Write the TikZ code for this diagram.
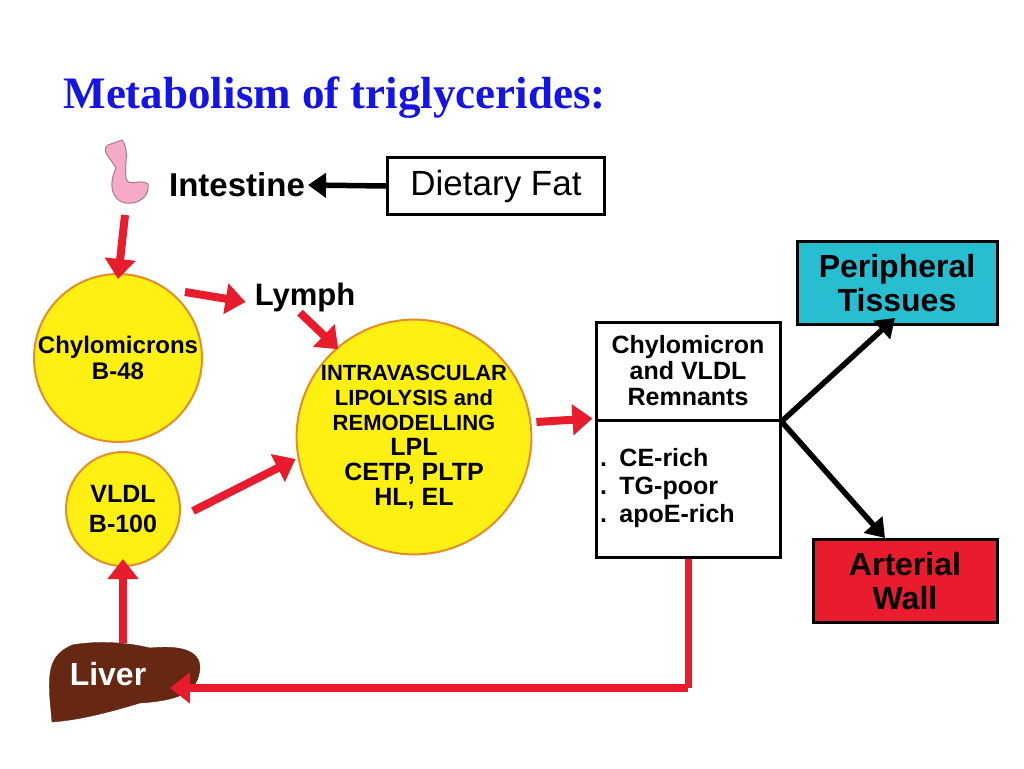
\documentclass[tikz,border=0pt]{standalone}
\usepackage{fontspec}
\setmainfont{Liberation Sans}
\newfontfamily\titlefont{Liberation Serif}
\usetikzlibrary{arrows.meta,positioning}
\definecolor{ared}{RGB}{232,28,44}
\definecolor{ayellow}{RGB}{255,240,20}
\definecolor{aorange}{RGB}{230,140,40}
\definecolor{acyan}{RGB}{40,190,210}
\definecolor{abrown}{RGB}{102,40,18}
\definecolor{apink}{RGB}{245,170,200}
\definecolor{atitle}{RGB}{20,20,230}
\tikzset{
  redarrow/.style={draw=ared,line width=8pt,-{Triangle[width=30pt,length=20pt]}},
  blackarrow/.style={draw=black,line width=5.5pt,-{Triangle[width=24pt,length=18pt]}},
  ball/.style={circle,draw=aorange,fill=ayellow,line width=2pt,inner sep=0pt,align=center,font=\bfseries\fontsize{24}{26}\selectfont},
  lbl/.style={font=\bfseries\fontsize{33}{36}\selectfont,inner sep=1pt},
  box/.style={draw=black,line width=3pt,align=center,inner sep=0pt}
}
\begin{document}
\begin{tikzpicture}[x=1pt,y=-1pt]
\useasboundingbox (0,0) rectangle (1024,768);
\node[anchor=west,text=atitle,font=\titlefont\bfseries\fontsize{45}{48}\selectfont] (title) at (60,98) {Metabolism of triglycerides:};
% intestine
\draw[apink!70!black,fill=apink,line width=1pt] (108,145) .. controls (100,150) and (112,160) .. (116,168)
  .. controls (108,185) and (112,200) .. (125,203) .. controls (140,205) and (150,195) .. (148,184)
  .. controls (140,178) and (128,188) .. (126,178) .. controls (124,165) and (130,150) .. (122,140) -- cycle;
\node[lbl] (intestine) at (237,185) {Intestine};
\node[box,minimum width=217pt,minimum height=57pt,font=\fontsize{35}{38}\selectfont] (fat) at (496,186) {Dietary Fat};
\coordinate (gut) at (125,215);
% circles
\node[ball,minimum size=168pt] (chylo) at (118,358) {Chylomicrons\\B-48};
\node[ball,minimum size=114pt,font=\bfseries\fontsize{25}{30}\selectfont] (vldl) at (123,509) {VLDL\\B-100};
\node[lbl,font=\bfseries\fontsize{31}{34}\selectfont] (lymph) at (305,297) {Lymph};
\node[ball,minimum size=226pt,font=\bfseries\fontsize{22}{25}\selectfont] (lipo) at (414,437)
  {INTRAVASCULAR\\LIPOLYSIS and\\REMODELLING\\{\fontsize{25}{27}\selectfont LPL}\\{\fontsize{25}{27}\selectfont CETP, PLTP}\\{\fontsize{25}{27}\selectfont HL, EL}};
% remnants
\node[box,minimum width=184pt,minimum height=98pt,font=\bfseries\fontsize{25}{26}\selectfont] (remtop) at (688,371) {Chylomicron\\and VLDL\\Remnants};
\node[box,minimum width=184pt,minimum height=137pt,font=\bfseries\fontsize{25}{28}\selectfont,align=left,text width=176pt] (rembot) at (688,488.5) {. CE-rich\\. TG-poor\\. apoE-rich};
\node[box,fill=acyan,minimum width=200pt,minimum height=83pt,font=\bfseries\fontsize{32}{34}\selectfont] (periph) at (897,283) {Peripheral\\Tissues};
\node[box,fill=ared,minimum width=184pt,minimum height=83pt,font=\bfseries\fontsize{32}{34}\selectfont] (wall) at (905,581) {Arterial\\Wall};
% liver
\draw[abrown,fill=abrown] (50,700) .. controls (48,670) and (50,655) .. (72,645) .. controls (100,640) and (130,643) .. (150,648)
  .. controls (180,645) and (200,650) .. (200,668) .. controls (198,690) and (185,700) .. (140,703)
  .. controls (110,712) and (80,720) .. (52,722) -- cycle;
\node[text=white,font=\bfseries\fontsize{32}{34}\selectfont] (liver) at (108,674) {Liver};
\coordinate (liverin) at (170,688);
\coordinate (livertop) at (123,643);
\coordinate (corner) at (688,688);
\coordinate (chyloout) at (185,292);
% connectors
\draw[blackarrow] (fat.west) -- ([xshift=2pt]intestine.east);
\draw[redarrow] (gut) -- ([yshift=-6pt]chylo.north);
\draw[redarrow] (chyloout) -- ([xshift=-8pt,yshift=-5pt]lymph.west);
\draw[redarrow] ([xshift=-5pt]lymph.south) -- ([xshift=8pt,yshift=4pt]lipo.north west);
\draw[redarrow] ([xshift=12pt,yshift=-2pt]vldl.east) -- ([xshift=0pt,yshift=-22pt]lipo.west);
\draw[redarrow] ([xshift=4pt,yshift=15pt]lipo.east) -- ([xshift=-2pt]rembot.north west);
\draw[blackarrow] (remtop.south east) -- ([xshift=-2pt,yshift=8pt]periph.south);
\draw[blackarrow] (remtop.south east) -- ([xshift=-20pt]wall.north);
\draw[draw=ared,line width=7pt] (rembot.south) -- (corner);
\draw[redarrow] (corner) -- (liverin);
\draw[redarrow] (livertop) -- ([yshift=8pt]vldl.south);
\end{tikzpicture}
\end{document}
